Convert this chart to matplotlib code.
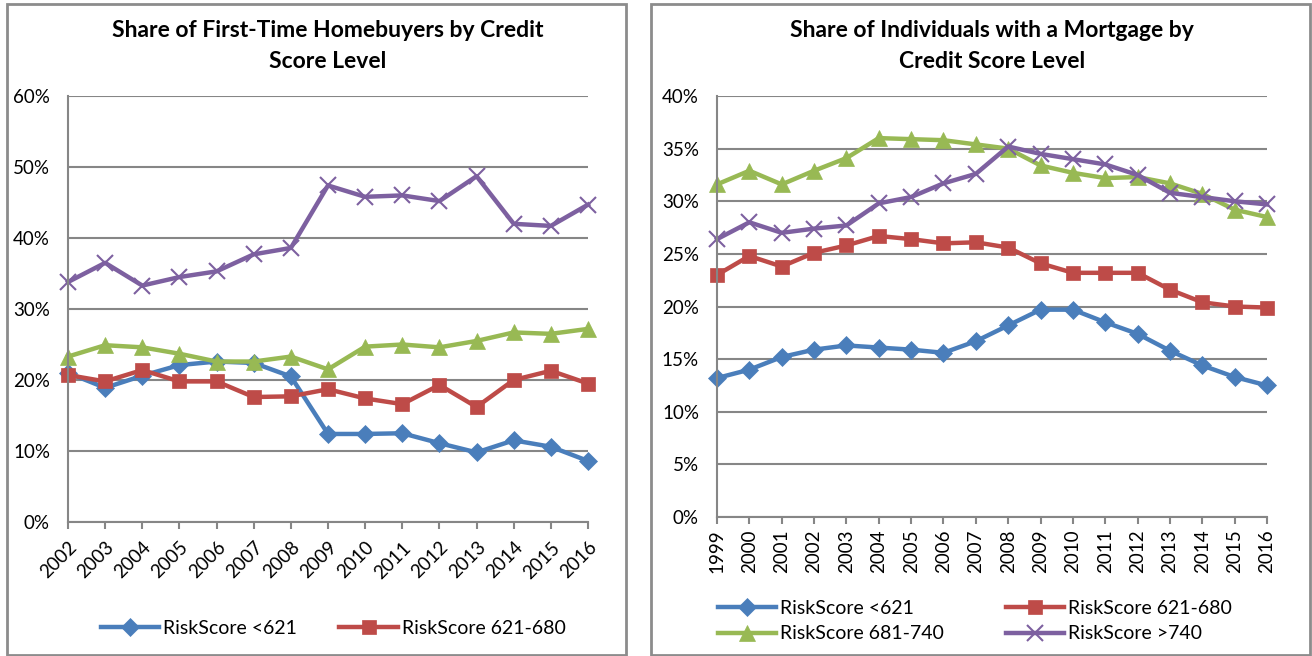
import matplotlib
matplotlib.use("Agg")
import matplotlib.pyplot as plt
from matplotlib.patches import Rectangle
from matplotlib.ticker import FuncFormatter

plt.rcParams['font.family'] = ['Lato', 'DejaVu Sans']

# ---- data: first-time homebuyers (left)
years_l = list(range(2002, 2017))
fthb_lt621 = [21.0, 18.9, 20.6, 22.1, 22.6, 22.4, 20.5, 12.4, 12.4, 12.5, 11.1, 9.8, 11.5, 10.6, 8.6]
fthb_621_680 = [20.7, 19.8, 21.4, 19.8, 19.8, 17.6, 17.7, 18.7, 17.4, 16.6, 19.3, 16.2, 20.0, 21.3, 19.5]
fthb_681_740 = [23.3, 24.9, 24.6, 23.7, 22.6, 22.6, 23.3, 21.5, 24.7, 25.0, 24.6, 25.5, 26.7, 26.5, 27.2]
fthb_gt740 = [33.8, 36.5, 33.3, 34.5, 35.3, 37.7, 38.6, 47.4, 45.8, 46.0, 45.2, 48.7, 42.0, 41.7, 44.7]

# ---- data: individuals with a mortgage (right)
years_r = list(range(1999, 2017))
mort_lt621 = [13.2, 14.0, 15.2, 15.9, 16.3, 16.1, 15.9, 15.6, 16.7, 18.2, 19.7, 19.7, 18.5, 17.4, 15.8, 14.4, 13.3, 12.5]
mort_621_680 = [23.0, 24.8, 23.8, 25.1, 25.8, 26.7, 26.4, 26.0, 26.1, 25.6, 24.1, 23.2, 23.2, 23.2, 21.6, 20.4, 20.0, 19.9]
mort_681_740 = [31.6, 32.9, 31.6, 32.9, 34.1, 36.0, 35.9, 35.8, 35.4, 35.0, 33.4, 32.7, 32.2, 32.3, 31.7, 30.7, 29.2, 28.5]
mort_gt740 = [26.4, 28.0, 27.0, 27.4, 27.7, 29.8, 30.4, 31.7, 32.6, 35.2, 34.5, 34.0, 33.5, 32.5, 30.8, 30.4, 30.0, 29.7]

labels = ['RiskScore <621', 'RiskScore 621-680', 'RiskScore 681-740', 'RiskScore >740']
colors = ['#4A7EBB', '#BE4B48', '#98B954', '#7D60A0']
markers = ['D', 's', '^', 'x']
msizes = [9, 10.5, 11.5, 11]

W, H = 1312, 656
fig = plt.figure(figsize=(W / 100, H / 100), dpi=100)

def px(x0, y0, x1, y1):
    # pixel box (top-left origin) -> figure fraction
    return [x0 / W, 1 - y1 / H, (x1 - x0) / W, (y1 - y0) / H]

# panel frames
for (x0, x1) in [(7, 626), (651, 1310)]:
    fig.patches.append(Rectangle((x0 / W, 1 - 655 / H), (x1 - x0) / W, (655 - 4) / H,
                                 transform=fig.transFigure, fill=False,
                                 edgecolor='#8C8C8C', linewidth=2))

pct = FuncFormatter(lambda v, p: '%d%%' % round(v))

def style(ax, years, ymax, ystep, rot):
    ax.set_xlim(years[0], years[-1])
    ax.set_ylim(0, ymax)
    ax.set_yticks(range(0, ymax + 1, ystep))
    ax.yaxis.set_major_formatter(pct)
    ax.set_xticks(years)
    ax.set_xticklabels([str(y) for y in years], rotation=rot,
                       ha='right' if rot == 45 else 'center',
                       rotation_mode='anchor' if rot == 45 else 'default')
    ax.grid(axis='y', color='#868686', linewidth=1.5)
    ax.set_axisbelow(True)
    for s in ['top', 'right']:
        ax.spines[s].set_visible(False)
    for s in ['left', 'bottom']:
        ax.spines[s].set_color('#868686')
        ax.spines[s].set_linewidth(1.5)
    ax.tick_params(axis='y', length=0, labelsize=13.5, pad=13)
    ax.tick_params(axis='x', length=5, width=1.5, color='#868686', labelsize=13.5,
                   pad=7 if rot == 45 else 4)

# left chart
ax1 = fig.add_axes(px(68, 96, 588, 522))
series_l = [fthb_lt621, fthb_621_680, fthb_681_740, fthb_gt740]
handles = []
for vals, c, m, ms, lab in zip(series_l, colors, markers, msizes, labels):
    h, = ax1.plot(years_l, vals, color=c, linewidth=3.2, marker=m, markersize=ms,
                  markeredgewidth=1.5 if m == 'x' else 0.5, clip_on=False, label=lab)
    handles.append(h)
style(ax1, years_l, 60, 10, 45)
ax1.set_title('Share of First-Time Homebuyers by Credit\nScore Level',
              fontsize=16.5, fontweight='bold', pad=20, linespacing=1.6)
fig.legend(handles[:2], labels[:2], loc='center', bbox_to_anchor=(333 / W, 1 - 628 / H),
           ncol=2, frameon=False, fontsize=14, handlelength=3, columnspacing=2.2,
           handletextpad=0.2)

# right chart
ax2 = fig.add_axes(px(717, 96, 1267, 517))
series_r = [mort_lt621, mort_621_680, mort_681_740, mort_gt740]
handles = []
for vals, c, m, ms, lab in zip(series_r, colors, markers, msizes, labels):
    h, = ax2.plot(years_r, vals, color=c, linewidth=3.2, marker=m, markersize=ms,
                  markeredgewidth=1.5 if m == 'x' else 0.5, clip_on=False, label=lab)
    handles.append(h)
style(ax2, years_r, 40, 5, 90)
ax2.set_title('Share of Individuals with a Mortgage by\nCredit Score Level',
              fontsize=16.5, fontweight='bold', pad=20, linespacing=1.6)
order = [0, 2, 1, 3]  # legend fills row by row
fig.legend([handles[i] for i in order], [labels[i] for i in order], loc='center',
           bbox_to_anchor=(975 / W, 1 - 621 / H), ncol=2, frameon=False, fontsize=14,
           handlelength=3, columnspacing=3.2, handletextpad=0.2, labelspacing=0.45)

fig.savefig('out.png', dpi=100)
